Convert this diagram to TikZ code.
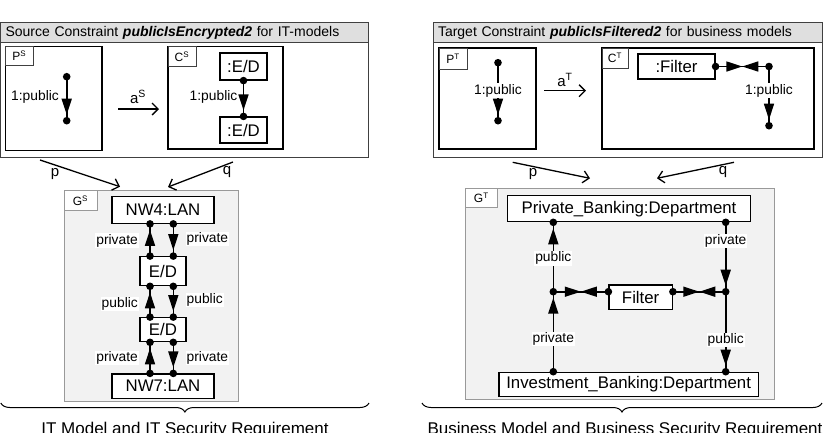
\documentclass[tikz,border=0pt]{standalone}
\usepackage{fontspec}
\setmainfont{Liberation Sans}
\usetikzlibrary{arrows.meta,decorations.markings,decorations.pathreplacing}
\newcommand\myfs[1]{\fontsize{#1}{#1}\selectfont}
\newcommand\mydot[1]{\fill (#1) circle[radius=3.8pt];}
\tikzset{
  panel/.style={draw=black!75, line width=1pt, fill=white, inner sep=0pt},
  headbar/.style={draw=black!75, line width=1pt, fill=gray!25, font=\myfs{14}, inner xsep=5pt, inner ysep=0pt, align=left},
  frame/.style={draw=black, line width=1.2pt, fill=white, inner sep=0pt},
  tag/.style={draw=black!75, line width=1pt, fill=white, inner sep=0pt, font=\myfs{12}},
  graphbox/.style={draw=gray!80, line width=1pt, fill=gray!10, inner sep=0pt},
  gtag/.style={draw=gray!80, line width=1pt, fill=white, inner sep=0pt, font=\myfs{12}},
  obj/.style={draw=black, line width=1.2pt, fill=white, inner sep=0pt, font=\myfs{16.8}},
  elabel/.style={font=\myfs{13.8}, inner sep=1pt, fill=white},
  plabel/.style={font=\myfs{13.8}, inner sep=1pt},
  tri/.tip={Triangle[length=16pt,width=10pt]},
  edge/.style={line width=1.6pt, postaction={decorate}, decoration={markings,
      mark=at position -6pt with {\arrow{tri}}}},
  meet/.style={line width=1.6pt, postaction={decorate}, decoration={markings,
      mark=at position 0.5 with {\arrow{tri}},
      mark=at position 0.5 with {\arrowreversed{tri}}}},
  map/.style={line width=1.3pt, -{Straight Barb[length=6pt,width=12pt]}},
  maplabel/.style={font=\myfs{15}, inner sep=0pt},
  bracedeco/.style={line width=1pt, decorate, decoration={brace, mirror, amplitude=9pt}},
  caption/.style={font=\myfs{17}, inner sep=0pt, anchor=base},
}
\begin{document}
\begin{tikzpicture}[x=1pt,y=-1pt]
\useasboundingbox (0,0) rectangle (831,432);
\clip (0,0) rectangle (831,432);

% ---------------- Source constraint panel ----------------
\node[panel, minimum width=367.5pt, minimum height=134.3pt] (srcpanel) at (184.25,89.85) {};
\node[headbar, minimum width=367.5pt, minimum height=20pt, text width=357.5pt] (srchead) at (184.25,32.7)
  {Source Constraint \textbf{\textit{publicIsEncrypted2}} for IT-models};
\node[frame, minimum width=96.3pt, minimum height=104pt] (PS) at (53.85,98.7) {};
\node[tag, minimum width=27.3pt, minimum height=18.3pt] (PStag) at (19.35,55.85) {P\textsuperscript{S}};
\node[frame, minimum width=115pt, minimum height=102.3pt] (CS) at (225.5,97.85) {};
\node[tag, minimum width=28pt, minimum height=20pt] (CStag) at (182,56.7) {C\textsuperscript{S}};
\node[obj, minimum width=47pt, minimum height=27pt] (edA) at (243.5,66.5) {:E/D};
\node[obj, minimum width=47pt, minimum height=26pt] (edB) at (243.5,130) {:E/D};

\coordinate (ps1) at (66.7,76.7);
\coordinate (ps2) at (66.7,120.7);
\draw[edge] (ps1) -- (ps2);
\mydot{ps1}\mydot{ps2}
\node[plabel, anchor=east] (psl) at (60,96.7) {1:public};

\draw[edge] (edA.south) -- (edB.north);
\mydot{edA.south}\mydot{edB.north}
\node[plabel, anchor=east] (csl) at (238.5,97) {1:public};

\coordinate (aS1) at (118,109);
\coordinate (aS2) at (159,109);
\draw[map] (aS1) -- (aS2);
\node[maplabel] (aSl) at (138,97) {a\textsuperscript{S}};

% ---------------- Target constraint panel ----------------
\node[panel, minimum width=389pt, minimum height=134.3pt] (tgtpanel) at (627.5,89.85) {};
\node[headbar, minimum width=389pt, minimum height=20pt, text width=379pt] (tgthead) at (627.5,32.7)
  {Target Constraint \textbf{\textit{publicIsFiltered2}} for business models};
\node[frame, minimum width=97pt, minimum height=101pt] (PT) at (487.5,98.5) {};
\node[tag, minimum width=28pt, minimum height=21pt] (PTtag) at (453,58.5) {P\textsuperscript{T}};
\node[frame, minimum width=212pt, minimum height=101pt] (CT) at (708,98.5) {};
\node[tag, minimum width=26pt, minimum height=20pt] (CTtag) at (615,58) {C\textsuperscript{T}};
\node[obj, minimum width=77pt, minimum height=25pt] (filt1) at (676.5,66.5) {:Filter};

\coordinate (pt1) at (498,62.7);
\coordinate (pt2) at (498,120.7);
\draw[edge] (pt1) -- (pt2);
\mydot{pt1}\mydot{pt2}
\node[elabel] (ptl) at (498,90.7) {1:public};

\coordinate (ctc) at (769,66.5);
\coordinate (ctb) at (769,125.7);
\draw[meet] (filt1.east) -- (ctc);
\draw[edge] (ctc) -- (ctb);
\mydot{filt1.east}\mydot{ctc}\mydot{ctb}
\node[elabel] (ctl) at (769,90.7) {1:public};

\coordinate (aT1) at (544,90.7);
\coordinate (aT2) at (586,90.7);
\draw[map] (aT1) -- (aT2);
\node[maplabel] (aTl) at (565,80) {a\textsuperscript{T}};

% ---------------- Source graph G^S ----------------
\node[graphbox, minimum width=174pt, minimum height=210.3pt] (GS) at (151,295.85) {};
\node[gtag, minimum width=33pt, minimum height=20pt] (GStag) at (80.5,200.7) {G\textsuperscript{S}};
\node[obj, minimum width=102pt, minimum height=26.6pt] (nw4) at (163,210) {NW4:LAN};
\node[obj, minimum width=46pt, minimum height=29pt] (ed1) at (163,271.2) {E/D};
\node[obj, minimum width=46pt, minimum height=24pt] (ed2) at (163,329.7) {E/D};
\node[obj, minimum width=102pt, minimum height=24.3pt] (nw7) at (163,386.15) {NW7:LAN};

\coordinate (xl) at (150,0);
\coordinate (xr) at (173.3,0);
\coordinate (a1) at (nw4.south -| xl); \coordinate (b1) at (nw4.south -| xr);
\coordinate (a2) at (ed1.north -| xl);  \coordinate (b2) at (ed1.north -| xr);
\coordinate (a3) at (ed1.south -| xl);  \coordinate (b3) at (ed1.south -| xr);
\coordinate (a4) at (ed2.north -| xl);  \coordinate (b4) at (ed2.north -| xr);
\coordinate (a5) at (ed2.south -| xl);  \coordinate (b5) at (ed2.south -| xr);
\coordinate (a6) at (nw7.north -| xl);  \coordinate (b6) at (nw7.north -| xr);

\draw[edge] (a2) -- (a1);
\draw[edge] (a4) -- (a3);
\draw[edge] (a6) -- (a5);
\draw[edge] (b1) -- (b2);
\draw[edge] (b3) -- (b4);
\draw[edge] (b5) -- (b6);
\foreach \c in {a1,a2,a3,a4,a5,a6,b1,b2,b3,b4,b5,b6} {\mydot{\c}}

\node[elabel, anchor=east] (gsl1) at (139,240.7) {private};
\node[elabel, anchor=east] (gsl2) at (139,304) {public};
\node[elabel, anchor=east] (gsl3) at (139,358) {private};
\node[elabel, anchor=west] (gsr1) at (185.5,239) {private};
\node[elabel, anchor=west] (gsr2) at (185.5,300) {public};
\node[elabel, anchor=west] (gsr3) at (185.5,358) {private};

% ---------------- Target graph G^T ----------------
\node[graphbox, minimum width=309.3pt, minimum height=211pt] (GT) at (619.65,293.8) {};
\node[gtag, minimum width=32.7pt, minimum height=19pt] (GTtag) at (481.35,197.8) {G\textsuperscript{T}};
\node[obj, minimum width=243.4pt, minimum height=26pt] (pb) at (629,208.7) {Private\_Banking:Department};
\node[obj, minimum width=259.3pt, minimum height=24.4pt] (ib) at (628.65,384.5) {Investment\_Banking:Department};
\node[obj, minimum width=63.3pt, minimum height=24.3pt] (filt2) at (640.65,297.15) {Filter};

\coordinate (lx) at (553.3,291.7);
\coordinate (rx) at (725.7,291.7);
\coordinate (lt) at (pb.south -| lx);
\coordinate (rt) at (pb.south -| rx);
\coordinate (lb) at (ib.north -| lx);
\coordinate (rb) at (ib.north -| rx);
\coordinate (fl) at (filt2.west |- lx);
\coordinate (fr) at (filt2.east |- rx);

\draw[edge] (lb) -- (lx);
\draw[edge] (lx) -- (lt);
\draw[edge] (rt) -- (rx);
\draw[edge] (rx) -- (rb);
\draw[meet] (lx) -- (fl);
\draw[meet] (fr) -- (rx);
\foreach \c in {lt,lx,lb,rt,rx,rb,fl,fr} {\mydot{\c}}

\node[elabel] (gtl1) at (553.3,258.3) {public};
\node[elabel] (gtl2) at (553.3,339) {private};
\node[elabel] (gtr1) at (725.7,241) {private};
\node[elabel] (gtr2) at (725.7,340) {public};

% ---------------- morphisms p, q ----------------
\coordinate (pS1) at (40,160);   \coordinate (pS2) at (120,186.7);
\coordinate (qS1) at (233,162);  \coordinate (qS2) at (168,187);
\draw[map] (pS1) -- (pS2);
\draw[map] (qS1) -- (qS2);
\node[maplabel] (pSl) at (55,174) {p};
\node[maplabel] (qSl) at (227,172) {q};

\coordinate (pT1) at (512.7,162.3); \coordinate (pT2) at (590,178.3);
\coordinate (qT1) at (734,162.3);   \coordinate (qT2) at (657,178.3);
\draw[map] (pT1) -- (pT2);
\draw[map] (qT1) -- (qT2);
\node[maplabel] (pTl) at (533,174) {p};
\node[maplabel] (qTl) at (723,172) {q};

% ---------------- braces and captions ----------------
\coordinate (brL1) at (0.8,403);   \coordinate (brL2) at (369,403);
\coordinate (brR1) at (422,403);   \coordinate (brR2) at (822,403);
\draw[bracedeco] (brL1) -- (brL2);
\draw[bracedeco] (brR1) -- (brR2);
\node[caption] (capL) at (185,434) {IT Model and IT Security Requirement};
\node[caption] (capR) at (625,434) {Business Model and Business Security Requirement};
\end{tikzpicture}
\end{document}
